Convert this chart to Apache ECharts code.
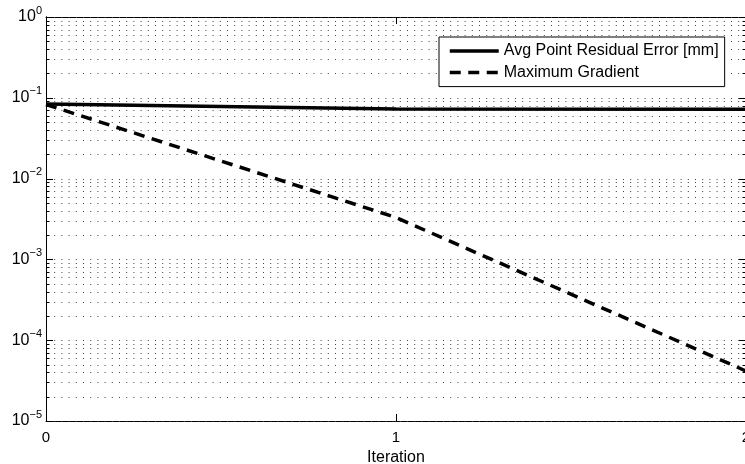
<!DOCTYPE html>
<html>
<head>
<meta charset="utf-8">
<script src="https://cdn.jsdelivr.net/npm/echarts@6/dist/echarts.min.js"></script>
<style>
  html, body { margin: 0; padding: 0; background: #fff; }
  #chart { width: 745px; height: 464px; }
</style>
</head>
<body>
<div id="chart"></div>
<script>
// Convergence history per iteration
const iterations = [0, 1, 2];
const avgResidualError = [0.0838, 0.0727, 0.0723];
const maxGradient = [0.0826, 0.0033, 0.0000416];
const seriesNames = ['Avg Point Residual Error [mm]', 'Maximum Gradient'];

// Log-axis decorations: decades and the 2..9 minor positions between them
const decades = [1e-5, 1e-4, 1e-3, 1e-2, 1e-1, 1];
const minorFactors = [2, 3, 4, 5, 6, 7, 8, 9];
const xTicks = [0, 1, 2];

const FONT = 'Liberation Sans, Arial, Helvetica, sans-serif';

const gridLines = [];
decades.forEach(function (d, i) {
  gridLines.push([0, d, 1]);
  if (i < decades.length - 1) {
    minorFactors.forEach(function (f) { gridLines.push([0, d * f, 0]); });
  }
});

const chart = echarts.init(document.getElementById('chart'), null, { renderer: 'canvas' });

chart.setOption({
  backgroundColor: '#fff',
  animation: false,
  grid: { left: 46, top: 17, right: -1, bottom: 43, containLabel: false, outerBoundsMode: 'none' },
  legend: {
    orient: 'vertical',
    left: 439,
    top: 37,
    padding: [6, 6, 6, 9],
    itemGap: 5.6,
    itemWidth: 49,
    itemHeight: 14,
    backgroundColor: '#fff',
    borderColor: '#000',
    borderWidth: 1,
    borderRadius: 0,
    data: seriesNames,
    itemStyle: { opacity: 0 },
    lineStyle: { width: 3.5 },
    textStyle: { fontFamily: FONT, fontSize: 16, color: '#000', lineHeight: 16 }
  },
  xAxis: [{
    type: 'value',
    min: 0, max: 2, interval: 1,
    name: 'Iteration',
    nameLocation: 'middle',
    nameGap: 22,
    nameTextStyle: { fontFamily: FONT, fontSize: 16, color: '#000' },
    axisLine: { show: true, lineStyle: { color: '#000', width: 1 } },
    axisTick: { show: true, inside: true, length: 7, lineStyle: { color: '#000' } },
    axisLabel: {
      fontFamily: FONT, fontSize: 15, color: '#000', margin: 9,
      showMinLabel: true, showMaxLabel: true,
      customValues: xTicks
    },
    splitLine: { show: false }
  }, {
    type: 'value',
    position: 'top',
    min: 0, max: 2, interval: 1,
    axisLine: { show: true, lineStyle: { color: '#000', width: 1 } },
    axisTick: { show: true, inside: true, length: 7, lineStyle: { color: '#000' } },
    axisLabel: { show: false },
    splitLine: { show: false }
  }],
  yAxis: [{
    type: 'log',
    logBase: 10,
    min: 1e-5, max: 1,
    axisLine: { show: true, lineStyle: { color: '#000', width: 1 } },
    axisTick: { show: false },
    splitLine: { show: false },
    axisLabel: {
      margin: 4,
      formatter: function (v) {
        const e = Math.round(Math.log10(v));
        const exp = e < 0 ? '\u2212' + Math.abs(e) : String(e);
        return '{b|10}{s|' + exp + '}';
      },
      rich: {
        b: { fontFamily: FONT, fontSize: 16, color: '#000', lineHeight: 24, verticalAlign: 'middle' },
        s: { fontFamily: FONT, fontSize: 11, color: '#000', lineHeight: 10, verticalAlign: 'top' }
      }
    }
  }, {
    type: 'log',
    logBase: 10,
    position: 'right',
    min: 1e-5, max: 1,
    axisLine: { show: true, lineStyle: { color: '#000', width: 1 } },
    axisTick: { show: false },
    axisLabel: { show: false },
    splitLine: { show: false }
  }],
  series: [{
    // dotted grid with inward ticks on both sides
    type: 'custom',
    silent: true,
    z: 1,
    data: gridLines,
    renderItem: function (params, api) {
      const cs = params.coordSys;
      const y = Math.round(api.coord([0, api.value(1)])[1]) + 0.5;
      const x0 = cs.x, x1 = cs.x + cs.width;
      const tickLen = api.value(2) ? 7 : 3.5;
      return {
        type: 'group',
        children: [
          { type: 'line', shape: { x1: x0 + 1, y1: y, x2: x1, y2: y },
            style: { stroke: '#444', lineWidth: 1, lineDash: [1, 6.2] } },
          { type: 'line', shape: { x1: x0, y1: y, x2: x0 + tickLen, y2: y },
            style: { stroke: '#000', lineWidth: 1 } },
          { type: 'line', shape: { x1: x1 - tickLen, y1: y, x2: x1, y2: y },
            style: { stroke: '#000', lineWidth: 1 } }
        ]
      };
    }
  }, {
    name: seriesNames[0],
    type: 'line',
    z: 3,
    symbol: 'none',
    showSymbol: false,
    data: iterations.map(function (x, i) { return [x, avgResidualError[i]]; }),
    lineStyle: { color: '#000', width: 3.5, type: 'solid' },
    itemStyle: { color: '#000' }
  }, {
    name: seriesNames[1],
    type: 'line',
    z: 3,
    symbol: 'none',
    showSymbol: false,
    data: iterations.map(function (x, i) { return [x, maxGradient[i]]; }),
    lineStyle: { color: '#000', width: 3.5, type: [11, 7.5], cap: 'butt' },
    itemStyle: { color: '#000' }
  }]
});
</script>
</body>
</html>
